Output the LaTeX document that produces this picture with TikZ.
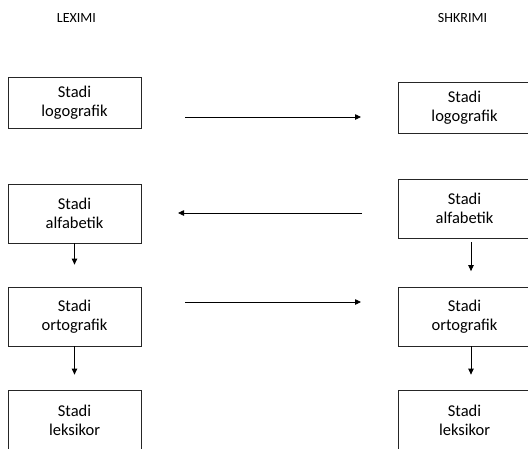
\documentclass[tikz,border=0pt]{standalone}
\usepackage{fontspec}
\setmainfont{Carlito}
\usetikzlibrary{arrows.meta}
\begin{document}
\begin{tikzpicture}[x=1pt,y=-1pt,
  stage/.style={draw=black!85, line width=0.8pt, minimum width=133pt, align=center,
    font=\fontsize{16.5}{19}\selectfont, inner sep=0pt},
  head/.style={font=\fontsize{14}{16}\selectfont},
  arr/.style={line width=0.8pt, -{Triangle[length=6pt,width=5.5pt]}}]
\useasboundingbox (0,0) rectangle (528,448);
\clip (0,0) rectangle (528,448);
\node[head] (lh) at (76.5,18) {LEXIMI};
\node[head] (rh) at (462.5,18) {SHKRIMI};
% left column
\node[stage, minimum height=51pt] (l1) at (74.5,102.5) {Stadi\\logografik};
\node[stage, minimum height=59pt] (l2) at (74.5,213.5) {Stadi\\alfabetik};
\node[stage, minimum height=59pt] (l3) at (74.5,316.5) {Stadi\\ortografik};
\node[stage, minimum height=60pt] (l4) at (74.5,420) {Stadi\\leksikor};
% right column
\node[stage, minimum height=51pt, minimum width=146pt] (r1) at (471,108) {\hspace*{-13pt}Stadi\\\hspace*{-13pt}logografik};
\node[stage, minimum height=59pt, minimum width=146pt] (r2) at (471,208.5) {\hspace*{-13pt}Stadi\\\hspace*{-13pt}alfabetik};
\node[stage, minimum height=59pt, minimum width=146pt] (r3) at (471,316.5) {\hspace*{-13pt}Stadi\\\hspace*{-13pt}ortografik};
\node[stage, minimum height=60pt, minimum width=146pt] (r4) at (471,420) {\hspace*{-13pt}Stadi\\\hspace*{-13pt}leksikor};
% horizontal connectors
\coordinate (a1s) at (185,117);
\coordinate (a1e) at (361,117);
\coordinate (a2s) at (362,213);
\coordinate (a2e) at (178,213);
\coordinate (a3s) at (185,302);
\coordinate (a3e) at (361,302);
\draw[arr] (a1s) -- (a1e);
\draw[arr] (a2s) -- (a2e);
\draw[arr] (a3s) -- (a3e);
% vertical connectors
\draw[arr, shorten >=22pt] (l2.south) -- (l3.north);
\draw[arr, shorten >=15pt] (l3.south) -- (l4.north);
\draw[arr, shorten <=4pt, shorten >=15.5pt] (r2.south) -- (r3.north);
\draw[arr, shorten >=15pt] (r3.south) -- (r4.north);
\end{tikzpicture}
\end{document}
